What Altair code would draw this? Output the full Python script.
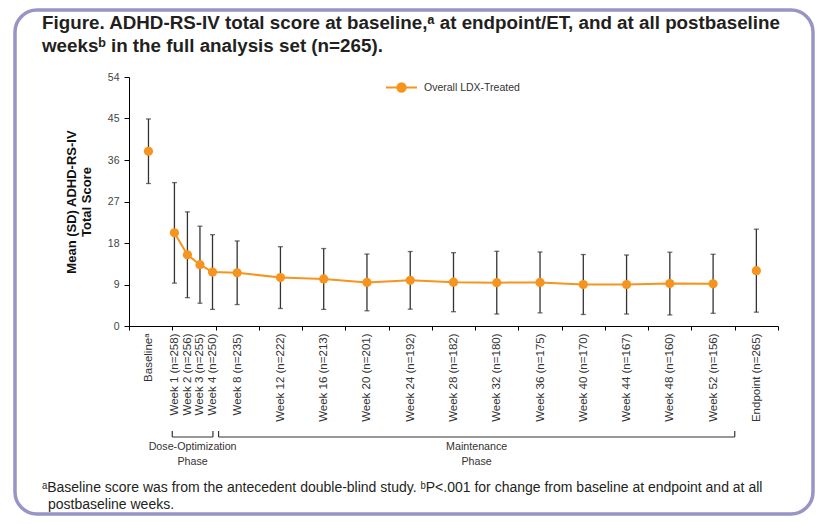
import json
import altair as alt
import pandas as pd

# ---------------- data ----------------
labels = ["Baselineᵃ", "Week 1 (n=258)", "Week 2 (n=256)", "Week 3 (n=255)", "Week 4 (n=250)",
          "Week 8 (n=235)", "Week 12 (n=222)", "Week 16 (n=213)", "Week 20 (n=201)",
          "Week 24 (n=192)", "Week 28 (n=182)", "Week 32 (n=180)", "Week 36 (n=175)",
          "Week 40 (n=170)", "Week 44 (n=167)", "Week 48 (n=160)", "Week 52 (n=156)",
          "Endpoint (n=265)"]
positions = [0.45, 1.05, 1.35, 1.64, 1.93, 2.5, 3.5, 4.5, 5.5, 6.5, 7.5, 8.5, 9.5,
             10.5, 11.5, 12.5, 13.5, 14.5]
mean_score = [37.9, 20.2, 15.45, 13.3, 11.7, 11.55, 10.5, 10.2, 9.45, 9.9, 9.5, 9.4,
              9.45, 9.0, 9.0, 9.2, 9.15, 12.0]
sd_score = [7.0, 10.9, 9.3, 8.35, 8.1, 6.9, 6.7, 6.6, 6.15, 6.25, 6.4, 6.8, 6.6, 6.5,
            6.4, 6.8, 6.4, 9.0]
series_name = "Overall LDX-Treated"

y_ticks = [0, 9, 18, 27, 36, 45, 54]
x_ticks = list(range(16))

phase_names = ["Dose-Optimization\nPhase", "Maintenance\nPhase"]
phase_start = [1.0, 2.07]
phase_end = [1.94, 14.0]

title_lines = ["Figure. ADHD-RS-IV total score at baseline,ᵃ at endpoint/ET, and at all postbaseline",
               "weeksᵇ in the full analysis set (n=265)."]
footnote_line1 = "ᵃBaseline score was from the antecedent double-blind study. ᵇP<.001 for change from baseline at endpoint and at all"
footnote_line2 = "postbaseline weeks."

# ---------------- style ----------------
ORANGE = "#F7941D"
BAR = "#333333"
FONT = "Liberation Sans"

df = pd.DataFrame({"label": labels, "pos": positions, "mean": mean_score,
                   "sd": sd_score, "series": series_name})
phase_df = pd.DataFrame({"phase": phase_names, "start": phase_start, "end": phase_end})
dummy = pd.DataFrame({"a": [0]})

x_scale = alt.Scale(domain=[0, 15], nice=False, zero=False)
y_scale = alt.Scale(domain=[0, 54], nice=False)

label_expr = f"{json.dumps(labels, ensure_ascii=False)}[indexof({json.dumps(positions)}, datum.value)] || ''"

x_axis = alt.Axis(values=x_ticks + positions, labelExpr=label_expr, labelAngle=270,
                  labelOverlap=False, labelFlush=False, labelBound=False,
                  tickSize=4, labelPadding=3,
                  tickOpacity={"condition": {"test": "datum.value % 1 === 0", "value": 1}, "value": 0},
                  title=None, grid=False, domainColor="#000", tickColor="#000",
                  labelFontSize=11.5, labelColor="#333", labelFont=FONT, zindex=1)

y_axis = alt.Axis(values=y_ticks, tickSize=5, labelPadding=5, labelFontSize=10.5,
                  labelColor="#444", labelFont=FONT,
                  title=["Mean (SD) ADHD-RS-IV", "Total Score"], titleFontSize=13,
                  titleLineHeight=15,
                  titleFontWeight="bold", titleFont=FONT, titleColor="#111",
                  titlePadding=14, grid=False, domainColor="#000", tickColor="#000",
                  zindex=1)

X = lambda f: alt.X(f, scale=x_scale, axis=x_axis)
Y = lambda f: alt.Y(f, scale=y_scale, axis=y_axis)

base = alt.Chart(df)

frame = alt.Chart(dummy).mark_rect(fill="white", fillOpacity=0, stroke="#9894C6",
                                   strokeWidth=3.5, cornerRadius=22).encode(
    x=alt.value(-114), x2=alt.value(684), y=alt.value(-67), y2=alt.value(437))

title = alt.Chart(dummy).mark_text(text=title_lines, align="left", baseline="alphabetic",
                                   font=FONT, fontSize=18.8, fontWeight="bold",
                                   lineHeight=23, color="#231f20").encode(
    x=alt.value(-87), y=alt.value(-48))

foot1 = alt.Chart(dummy).mark_text(text=footnote_line1, align="left", baseline="middle",
                                   font=FONT, fontSize=14, color="#231f20").encode(
    x=alt.value(-87), y=alt.value(411))
foot2 = alt.Chart(dummy).mark_text(text=footnote_line2, align="left", baseline="middle",
                                   font=FONT, fontSize=14, color="#231f20").encode(
    x=alt.value(-81), y=alt.value(428))

bracket_h = alt.Chart(phase_df).mark_rule(color=BAR, strokeWidth=1.2).encode(
    x=X("start:Q"), x2="end:Q", y=alt.value(360))
bracket_v = alt.Chart(phase_df).transform_fold(["start", "end"], as_=["k", "v"]).mark_rule(
    color=BAR, strokeWidth=1.2).encode(
    x=X("v:Q"), y=alt.value(354), y2=alt.value(360))
phase_text = alt.Chart(phase_df).transform_calculate(
    mid="(datum.start + datum.end) / 2").mark_text(
    lineBreak="\n", baseline="middle", align="center", font=FONT, fontSize=10.7,
    color="#333", lineHeight=15).encode(
    x=X("mid:Q"), y=alt.value(370), text="phase:N")

err = base.transform_calculate(lo="datum.mean - datum.sd", hi="datum.mean + datum.sd")
rules = err.mark_rule(color=BAR, strokeWidth=1.3).encode(
    x=X("pos:Q"), y=Y("lo:Q"), y2="hi:Q")
caps = err.transform_fold(["lo", "hi"], as_=["k", "v"]).mark_tick(
    orient="horizontal", size=5, thickness=1.3, color=BAR).encode(
    x=X("pos:Q"), y=Y("v:Q"))

line = base.transform_filter("indexof(datum.label, 'Week') === 0").mark_line(
    color=ORANGE, strokeWidth=2).encode(x=X("pos:Q"), y=Y("mean:Q"))

legend_path = "M-1,0H-0.27A0.27,0.27 0 1,1 0.27,0A0.27,0.27 0 1,1 -0.27,0M0.27,0H1"
points = base.mark_point(filled=True, size=85, opacity=1).encode(
    x=X("pos:Q"), y=Y("mean:Q"),
    color=alt.Color("series:N", scale=alt.Scale(range=[ORANGE]),
                    legend=alt.Legend(title=None, orient="none", legendX=256, legendY=-6,
                                      symbolType=legend_path, symbolSize=961,
                                      symbolStrokeColor=ORANGE, symbolStrokeWidth=2,
                                      labelFontSize=10.5, labelColor="#333", labelFont=FONT,
                                      labelOffset=6, padding=0)))

chart = alt.layer(frame, title, foot1, foot2, bracket_h, bracket_v, phase_text,
                  rules, caps, line, points).properties(
    width=649, height=249,
    autosize=alt.AutoSizeParams(type="none"),
    padding={"left": 121, "top": 69, "right": 37, "bottom": 190},
    background="white",
).configure_view(stroke=None)

chart.save("out.html", embed_options={"renderer": "svg", "actions": False})
